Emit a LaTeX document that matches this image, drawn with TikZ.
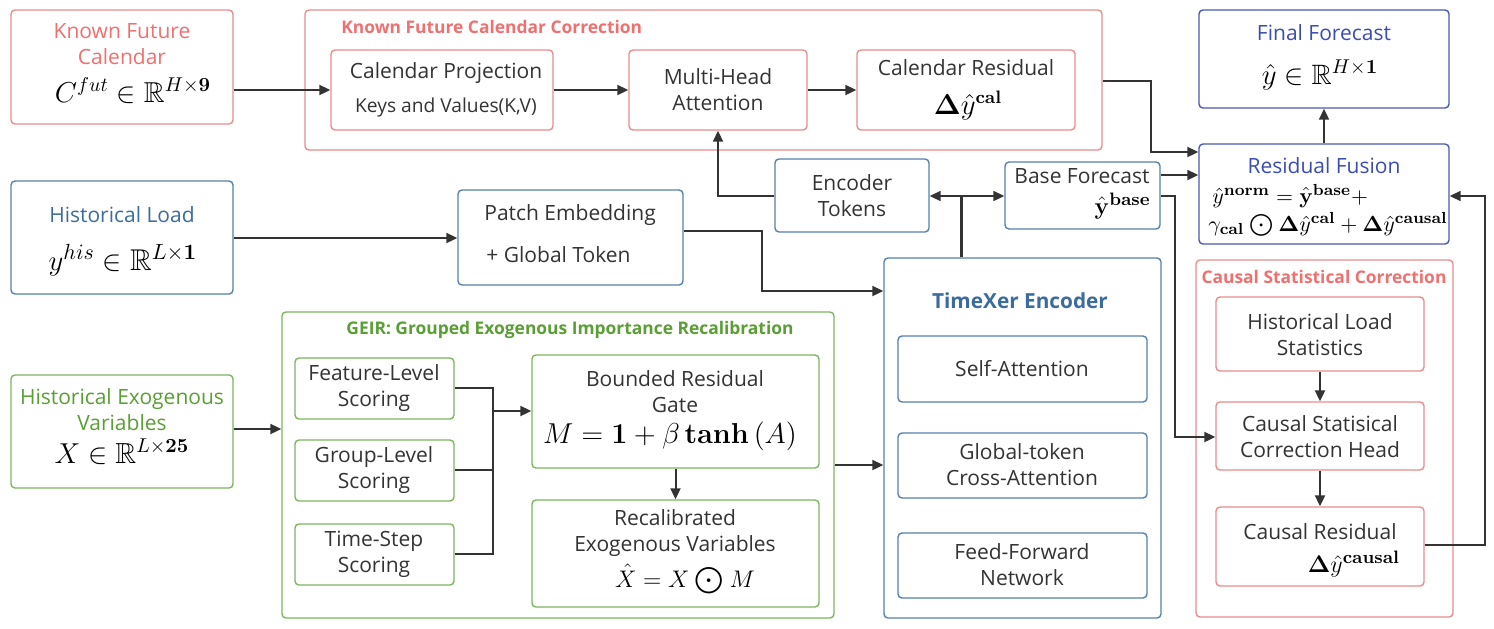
\documentclass[tikz,border=0pt]{standalone}
\usepackage{amsmath,amssymb,bm}
\usepackage[no-math]{fontspec}
\setmainfont{Open Sans}
\usetikzlibrary{fit,arrows.meta}
\definecolor{redline}{HTML}{E88C8C}
\definecolor{redtxt}{HTML}{F07070}
\definecolor{blueline}{HTML}{5580AC}
\definecolor{bluetxt}{HTML}{3C6C9E}
\definecolor{navyline}{HTML}{4858B4}
\definecolor{navytxt}{HTML}{3B4DB3}
\definecolor{greenline}{HTML}{7DB55E}
\definecolor{greentxt}{HTML}{5A9E35}
\definecolor{conn}{HTML}{333333}
\definecolor{txtc}{HTML}{333333}
\begin{document}
\begin{tikzpicture}[x=0.5pt,y=-0.5pt,
  box/.style={draw, rounded corners=2pt, line width=0.7pt, inner sep=0pt, fill=white},
  rbox/.style={box, draw=redline},
  bbox/.style={box, draw=blueline},
  nbox/.style={box, draw=navyline},
  gbox/.style={box, draw=greenline},
  t/.style={font=\fontsize{10.5}{13}\selectfont, text=txtc, inner sep=0pt, align=center},
  ts/.style={font=\fontsize{9.6}{11}\selectfont, text=txtc, inner sep=0pt, align=center},
  m/.style={font=\fontsize{#1}{#1}\selectfont, inner sep=0pt, anchor=base},
  m/.default=15,
  ttl/.style={font=\fontsize{8.7}{10}\selectfont\bfseries, inner sep=0pt},
  arr/.style={draw=conn, line width=1pt, -{Triangle[length=5.5pt,width=5pt]}},
  ln/.style={draw=conn, line width=1pt},
]
\useasboundingbox (0,0) rectangle (1494,628);

% ---------- Known future calendar ----------
\node[rbox, fit={(11,10)(233,124)}] (kfc) {};
\node[t, text=redtxt] (kfct) at (122,44) {Known Future\\Calendar};
\node[m=14.4] (kfcm) at (133,102) {$C^{fut}\in\mathbb{R}^{H\times\mathbf{9}}$};

\node[rbox, fit={(305,10)(1102,150)}] (kcc) {};
\node[ttl, text=redtxt, anchor=west] (kcct) at (341,27) {Known Future Calendar Correction};
\node[rbox, fit={(331,50)(553,130)}] (cp) {};
\node[t] (cpt) at (446,73) {Calendar Projection};
\node[ts] (cpt2) at (446,108) {Keys and Values(K,V)};
\node[rbox, fit={(629,50)(807,130)}] (mha) {};
\node[t] (mhat) at (718,90) {Multi-Head\\Attention};
\node[rbox, fit={(857,50)(1075,130)}] (cr) {};
\node[t] (crt) at (966,68) {Calendar Residual};
\node[m=13.5] (crm) at (968,114) {$\boldsymbol{\Delta}\hat{y}^{\mathbf{cal}}$};

% ---------- Final forecast & fusion ----------
\node[nbox, fit={(1199,10)(1449,108)}] (ff) {};
\node[t, text=navytxt] (fft) at (1324,33) {Final Forecast};
\node[m=14] (ffm) at (1320,84) {$\hat{y}\in\mathbb{R}^{H\times\mathbf{1}}$};
\node[nbox, fit={(1199,144)(1449,244)}] (rf) {};
\node[t, text=navytxt] (rft) at (1324,166) {Residual Fusion};
\node[m=10.9, anchor=base west] (rfm1) at (1212,203) {$\hat{y}^{\mathbf{norm}}=\hat{\mathbf{y}}^{\mathbf{base}}+$};
\node[m=10.9, anchor=base west] (rfm2) at (1208,231) {$\gamma_{\mathbf{cal}}\mathbin{\bigodot}\boldsymbol{\Delta}\hat{y}^{\mathbf{cal}}+\boldsymbol{\Delta}\hat{y}^{\mathbf{causal}}$};

% ---------- Historical load ----------
\node[bbox, fit={(11,181)(233,294)}] (hl) {};
\node[t, text=bluetxt] (hlt) at (122,215) {Historical Load};
\node[m=15] (hlm) at (123,270) {$y^{his}\in\mathbb{R}^{L\times\mathbf{1}}$};
\node[bbox, fit={(458,190)(683,285)}] (pe) {};
\node[t, anchor=west] (pet) at (484,215) {Patch Embedding};
\node[t, anchor=west] (pet2) at (486,255) {+ Global Token};

\node[bbox, fit={(775,159)(929,232)}] (et) {};
\node[t] (ett) at (852,196) {Encoder\\Tokens};
\node[bbox, fit={(1005,162)(1160,229)}] (bf) {};
\node[t] (bft) at (1082,176) {Base Forecast};
\node[m=12.5, anchor=base east] (bfm) at (1151,214) {$\hat{\mathbf{y}}^{\mathbf{base}}$};

% ---------- TimeXer ----------
\node[bbox, fit={(884,258)(1161,618)}] (tx) {};
\node[ttl, text=bluetxt, font=\fontsize{10.4}{12}\selectfont\bfseries] (txt) at (1020,301) {TimeXer Encoder};
\node[bbox, fit={(898,336)(1147,402)}] (sa) {};
\node[t] (sat) at (1022,369) {Self-Attention};
\node[bbox, fit={(898,433)(1147,498)}] (ca) {};
\node[t] (cat) at (1022,465) {Global-token\\Cross-Attention};
\node[bbox, fit={(898,533)(1147,598)}] (fn) {};
\node[t] (fnt) at (1022,565) {Feed-Forward\\Network};

% ---------- Causal statistical correction ----------
\node[rbox, fit={(1196,260)(1453,617)}] (csc) {};
\node[ttl, text=redtxt] (csct) at (1324,277) {Causal Statistical Correction};
\node[rbox, fit={(1216,297)(1424,371)}] (hls) {};
\node[t] (hlst) at (1320,335) {Historical Load\\Statistics};
\node[rbox, fit={(1216,402)(1424,470)}] (csh) {};
\node[t] (csht) at (1320,437) {Causal Statisical\\Correction Head};
\node[rbox, fit={(1216,507)(1424,586)}] (cres) {};
\node[t] (crest) at (1320,532) {Causal Residual};
\node[m=12.3] (cresm) at (1354,572) {$\boldsymbol{\Delta}\hat{y}^{\mathbf{causal}}$};

% ---------- Exogenous ----------
\node[gbox, fit={(11,375)(233,488)}] (hx) {};
\node[t, text=greentxt] (hxt) at (122,410) {Historical Exogenous\\Variables};
\node[m=14.5] (hxm) at (122,463) {$X\in\mathbb{R}^{L\times\mathbf{25}}$};

\node[gbox, fit={(282,312)(834,618)}] (geir) {};
\node[ttl, text=greentxt] (geirt) at (570,330) {GEIR: Grouped Exogenous Importance Recalibration};
\node[gbox, fit={(295,358)(454,419)}] (fl) {};
\node[t] (flt) at (374,388) {Feature-Level\\Scoring};
\node[gbox, fit={(295,440)(454,501)}] (gl) {};
\node[t] (glt) at (374,470) {Group-Level\\Scoring};
\node[gbox, fit={(295,524)(454,585)}] (tsn) {};
\node[t] (tst) at (374,554) {Time-Step\\Scoring};
\node[gbox, fit={(532,355)(819,468)}] (brg) {};
\node[t] (brgt) at (675,392) {Bounded Residual\\Gate};
\node[m=13.7] (brgm) at (670,443) {$M=\mathbf{1}+\beta\,\mathbf{tanh}\,(A)$};
\node[gbox, fit={(532,500)(819,607)}] (rev) {};
\node[t] (revt) at (675,533) {Recalibrated\\Exogenous Variables};
\node[m=13.2] (revm) at (685,587) {$\hat{X}=X\mathbin{\bigodot}M$};

% ---------- connectors ----------
\coordinate (jx) at (961,196);
\draw[arr] (kfc.east |- 0,90) -- (cp.west |- 0,90);
\draw[arr] (cp.east |- 0,90) -- (mha.west |- 0,90);
\draw[arr] (mha.east |- 0,90) -- (cr.west |- 0,90);
\draw[arr] (kcc.east |- 0,81) -| (1151,152) -- (rf.west |- 0,152);
\draw[arr] (bf.east |- 0,175) -- (rf.west |- 0,175);
\draw[arr] (bf.east |- 0,196) -| (1175,437) -- (csh.west |- 0,437);
\draw[arr] (cres.east |- 0,545) -| (1485,196) -- (rf.east |- 0,196);
\draw[arr] (rf.north) -- (ff.south);
\draw[arr] (hls.south) -- (csh.north);
\draw[arr] (csh.south) -- (cres.north);
\draw[arr] (hl.east |- 0,238) -- (pe.west |- 0,238);
\draw[arr] (pe.east |- 0,231) -| (762,291) -- (tx.west |- 0,291);
\draw[draw=conn, line width=1.5pt] (tx.north -| jx) -- (jx);
\draw[arr] (jx) -- (et.east |- jx);
\draw[arr] (jx) -- (bf.west |- jx);
\draw[arr] (et.west |- 0,196) -| (mha.south);
\draw[arr] (hx.east |- 0,429) -- (geir.west |- 0,429);
\draw[arr] (geir.east |- 0,465) -- (tx.west |- 0,465);
\draw[ln] (fl.east |- 0,388) -- (493,388) -- (493,554) -- (tsn.east |- 0,554);
\draw[ln] (gl.east |- 0,470) -- (493,470);
\draw[arr] (493,411) -- (brg.west |- 0,411);
\draw[arr] (brg.south) -- (rev.north);
\end{tikzpicture}
\end{document}
